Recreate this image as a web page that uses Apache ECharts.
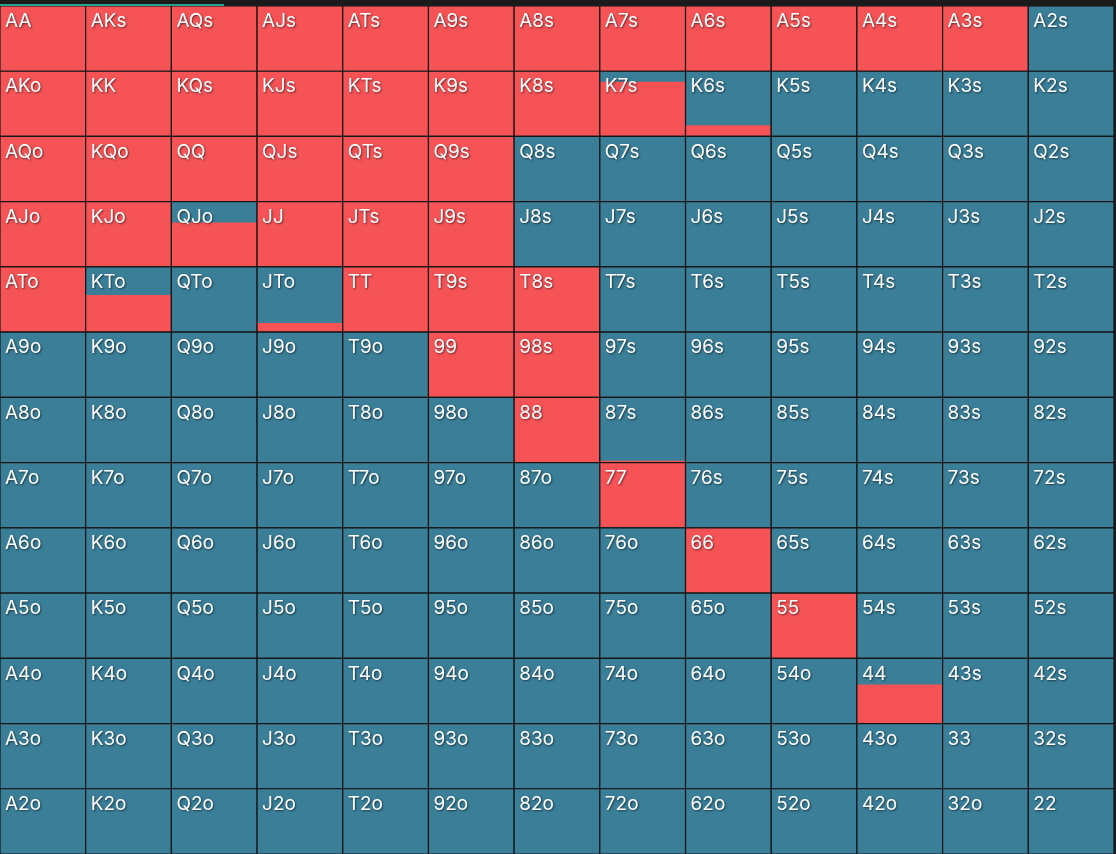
<!DOCTYPE html>
<html>
<head>
<meta charset="utf-8">
<script src="https://cdn.jsdelivr.net/npm/echarts@6/dist/echarts.min.js"></script>
<style>
html,body{margin:0;padding:0;background:#1b1b1b;overflow:hidden;}
#bar{position:absolute;left:0;top:0;width:1116px;height:6px;background:#1b1b1b;}
#prog{position:absolute;left:0;top:4px;width:224px;height:2px;background:#25a38c;}
#chart{position:absolute;left:0;top:0;width:1116px;height:854px;}
</style>
</head>
<body>
<div id="chart"></div>
<div id="bar"></div>
<div id="prog"></div>
<script>
const ranks = ['A','K','Q','J','T','9','8','7','6','5','4','3','2'];
// red (raise) fraction per cell, row = first rank, col = second rank
const rowA = [1,1,1,1,1,1,1,1,1,1,1,1,0];
const rowK = [1,1,1,1,1,1,1,0.84,0.17,0,0,0,0];
const rowQ = [1,1,1,1,1,1,0,0,0,0,0,0,0];
const rowJ = [1,1,0.68,1,1,1,0,0,0,0,0,0,0];
const rowT = [1,0.57,0,0.14,1,1,1,0,0,0,0,0,0];
const row9 = [0,0,0,0,0,1,1,0,0,0,0,0,0];
const row8 = [0,0,0,0,0,0,1,0.03,0,0,0,0,0];
const row7 = [0,0,0,0,0,0,0,1,0,0,0,0,0];
const row6 = [0,0,0,0,0,0,0,0,1,0,0,0,0];
const row5 = [0,0,0,0,0,0,0,0,0,1,0,0,0];
const row4 = [0,0,0,0,0,0,0,0,0,0,0.6,0,0];
const row3 = [0,0,0,0,0,0,0,0,0,0,0,0,0];
const row2 = [0,0,0,0,0,0,0,0,0,0,0,0,0];
const fractions = [rowA,rowK,rowQ,rowJ,rowT,row9,row8,row7,row6,row5,row4,row3,row2];

function handName(r, c){
  if (r === c) return ranks[r] + ranks[c];
  if (c > r) return ranks[r] + ranks[c] + 's';
  return ranks[c] + ranks[r] + 'o';
}
const data = [];
for (let r = 0; r < 13; r++) for (let c = 0; c < 13; c++) {
  data.push([c, r, fractions[r][c], handName(r, c)]);
}

const RED = '#f65356', BLUE = '#3a7e98', LINE = '#151515';
const chart = echarts.init(document.getElementById('chart'));
chart.setOption({
  backgroundColor: '#1b1b1b',
  animation: false,
  grid: {left: 0, top: 6, width: 1114, height: 849},
  xAxis: {type: 'category', data: ranks, show: false},
  yAxis: {type: 'category', data: ranks, inverse: true, show: false},
  series: [{
    type: 'custom',
    data: data,
    renderItem: function(params, api){
      const c = api.value(0), r = api.value(1), f = api.value(2);
      const p = api.coord([c, r]);
      const s = api.size([1, 1]);
      const x = p[0] - s[0]/2, y = p[1] - s[1]/2, w = s[0], h = s[1];
      const rh = h * f;
      return {
        type: 'group',
        children: [
          {type: 'rect', shape: {x: x, y: y, width: w, height: h}, style: {fill: BLUE}},
          {type: 'rect', shape: {x: x, y: y + h - rh, width: w, height: rh}, style: {fill: RED}},
          {type: 'rect', shape: {x: x, y: y, width: w, height: h}, style: {fill: null, stroke: LINE, lineWidth: 1.2}},
          {type: 'text', x: x + 5, y: y + 6, style: {
            text: api.value(3), fill: '#ffffff', font: '19px Inter, "Noto Sans", sans-serif',
            textAlign: 'left', textVerticalAlign: 'top',
            textShadowColor: 'rgba(0,0,0,0.55)', textShadowBlur: 2, textShadowOffsetX: 1, textShadowOffsetY: 1
          }}
        ]
      };
    }
  }]
});
</script>
</body>
</html>
